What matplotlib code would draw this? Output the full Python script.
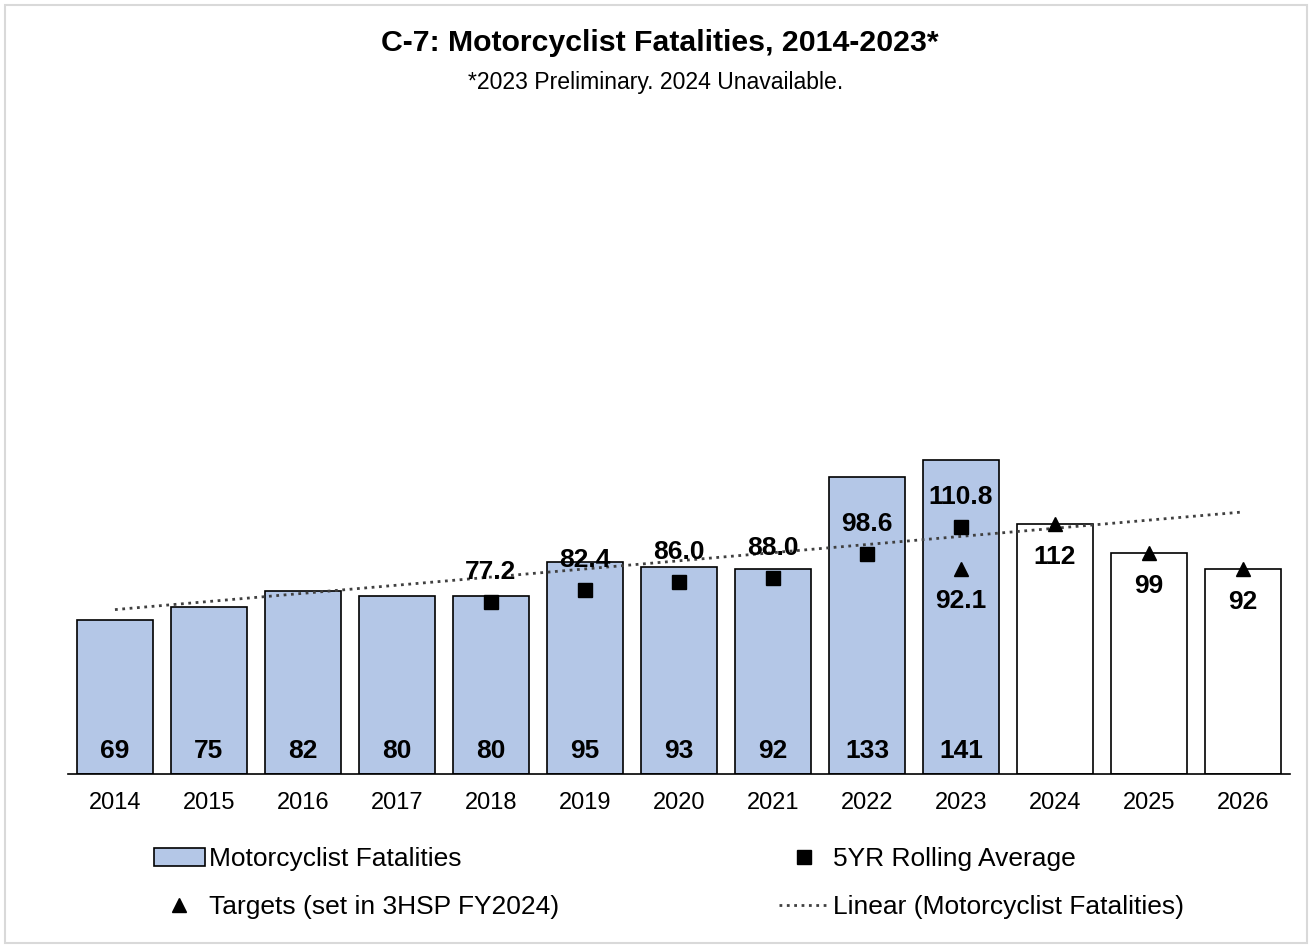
import numpy as np
import matplotlib.pyplot as plt
from matplotlib.patches import Rectangle

plt.rcParams['font.family'] = ['Liberation Sans', 'DejaVu Sans']

years = ['2014', '2015', '2016', '2017', '2018', '2019', '2020', '2021', '2022', '2023', '2024', '2025', '2026']
fatalities = [69, 75, 82, 80, 80, 95, 93, 92, 133, 141]
target_bars = [112, 99, 92]
rolling_years = ['2018', '2019', '2020', '2021', '2022', '2023']
rolling_avg = [77.2, 82.4, 86.0, 88.0, 98.6, 110.8]
target_years = ['2023', '2024', '2025', '2026']
targets = [92.1, 112, 99, 92]

fig = plt.figure(figsize=(13.12, 9.46), dpi=100)
fig.patches.append(Rectangle((0.004, 0.003), 0.992, 0.992, transform=fig.transFigure,
                             fill=False, edgecolor='#D9D9D9', linewidth=1.5))
ax = fig.add_axes([0.0518, 0.1818, 0.9314, 0.7072])

x = np.arange(len(years))
xi = {y: i for i, y in enumerate(years)}

# bars
ax.bar(x[:10], fatalities, width=0.81, color='#B4C7E7', edgecolor='black', linewidth=1.2,
       label='Motorcyclist Fatalities', zorder=2)
ax.bar(x[10:], target_bars, width=0.81, color='white', edgecolor='black', linewidth=1.2, zorder=2)
for i, v in enumerate(fatalities):
    ax.text(x[i], 10.3, str(v), ha='center', va='center', fontsize=19, fontweight='bold', zorder=5)

# linear trend over all bars
all_vals = fatalities + target_bars
coef = np.polyfit(x, all_vals, 1)
ax.plot(x, np.polyval(coef, x), linestyle=':', color='#404040', linewidth=2,
        label='Linear (Motorcyclist Fatalities)', zorder=3)

# rolling average
rx = [xi[y] for y in rolling_years]
ax.plot(rx, rolling_avg, linestyle='none', marker='s', markersize=10, color='black',
        label='5YR Rolling Average', zorder=4)
for px, v in zip(rx, rolling_avg):
    ax.annotate(f'{v:.1f}', (px, v), xytext=(0, 13), textcoords='offset points',
                ha='center', va='bottom', fontsize=19, fontweight='bold', zorder=5)

# targets
tx = [xi[y] for y in target_years]
ax.plot(tx, targets, linestyle='none', marker='^', markersize=10, color='black',
        label='Targets (set in 3HSP FY2024)', zorder=4)
for px, v in zip(tx, targets):
    lbl = f'{v:.1f}' if v != int(v) else f'{int(v)}'
    ax.annotate(lbl, (px, v), xytext=(0, -15), textcoords='offset points',
                ha='center', va='top', fontsize=19, fontweight='bold', zorder=5)

ax.set_xlim(-0.5, 12.5)
ax.set_ylim(0, 300)
ax.set_xticks(x)
ax.set_xticklabels(years, fontsize=17)
ax.tick_params(axis='x', length=0, pad=13)
ax.set_yticks([])
for s in ['top', 'right', 'left']:
    ax.spines[s].set_visible(False)
ax.spines['bottom'].set_linewidth(1.2)

fig.text(0.503, 0.955, 'C-7: Motorcyclist Fatalities, 2014-2023*', ha='center', va='center',
         fontsize=21.8, fontweight='bold')
fig.text(0.5, 0.913, '*2023 Preliminary. 2024 Unavailable.', ha='center', va='center', fontsize=16.6)

h, l = ax.get_legend_handles_labels()
order = [l.index('Motorcyclist Fatalities'), l.index('Targets (set in 3HSP FY2024)'),
         l.index('5YR Rolling Average'), l.index('Linear (Motorcyclist Fatalities)')]
fig.legend([h[i] for i in order], [l[i] for i in order], ncol=2, loc='center',
           bbox_to_anchor=(0.510, 0.0667), frameon=False, fontsize=19, columnspacing=8.34,
           handlelength=1.9, handletextpad=0.15, labelspacing=0.9)

fig.savefig('out.png', dpi=100)
